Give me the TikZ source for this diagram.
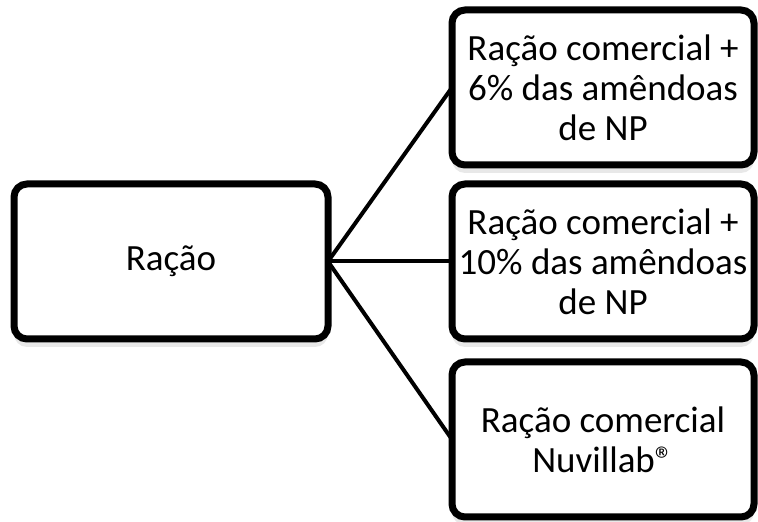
\documentclass[tikz,border=0pt]{standalone}
\usepackage{fontspec}
\setmainfont{Carlito}
\usepackage{tikz}
\usetikzlibrary{shapes,arrows,shadows}
\tikzstyle{box} = [rectangle, draw, line width=7pt, fill=white, rounded corners=13pt, inner sep=0pt, outer sep=0pt, align=center, minimum height=155pt, font=\fontsize{37}{40}\selectfont, drop shadow={shadow xshift=0pt, shadow yshift=-8pt, opacity=0.18}]
\tikzstyle{rootbox} = [box, minimum width=314pt]
\tikzstyle{leafbox} = [box, minimum width=302pt]
\tikzstyle{line} = [draw, line width=4pt]

\begin{document}
\begin{tikzpicture}[x=1pt, y=1pt, node distance=432pt]
    \useasboundingbox (0,0) rectangle (758,522);
    % Place nodes
    \node [rootbox] at (171,260.5) (racao) {Ração};
    \node [leafbox, right of=racao] (mid) {Ração comercial +\\10\% das amêndoas\\de NP};
    \node [leafbox, above of=mid, node distance=174pt] (top) {Ração comercial +\\6\% das amêndoas\\de NP};
    \node [leafbox, below of=mid, node distance=178pt] (bot) {Ração comercial\\Nuvillab®};
    % Draw edges
    \path [line] (racao.east) -- (top.west);
    \path [line] (racao.east) -- (mid.west);
    \path [line] (racao.east) -- (bot.west);
\end{tikzpicture}
\end{document}
